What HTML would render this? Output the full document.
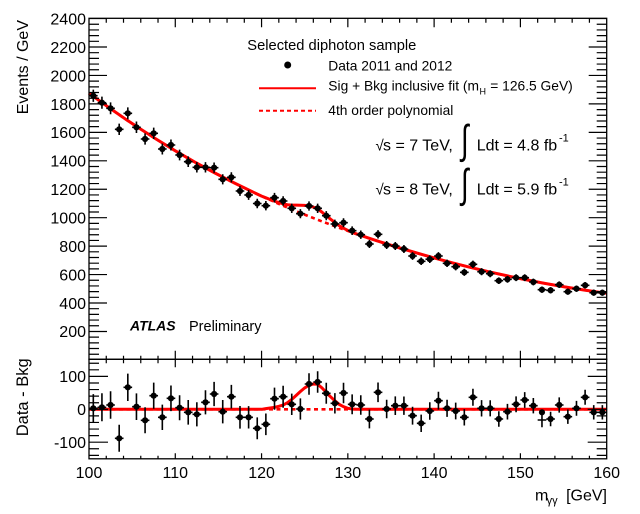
<!DOCTYPE html>
<html><head><meta charset="utf-8"><style>
html,body{margin:0;padding:0;background:#fff;}
svg{display:block;}
text{font-family:"Liberation Sans",Arial,sans-serif;fill:#000;}
</style></head><body>
<svg width="640" height="514" viewBox="0 0 640 514" xmlns="http://www.w3.org/2000/svg">
<defs>
<marker id="dot" markerUnits="userSpaceOnUse" markerWidth="8" markerHeight="8" refX="4" refY="4" viewBox="0 0 8 8"><circle cx="4" cy="4" r="3.1" fill="#000"/></marker>
</defs>

<!-- upper fit curves -->
<path d="M89,93.2 C117.76,114.45 146.54,133.65 175.3,150.8 C204.06,167.95 232.84,182.75 261.6,196.1 C290.36,209.45 319.04,220.6 347.8,230.9 C376.56,241.2 405.34,249.95 434.1,257.9 C462.86,265.85 491.64,272.7 520.4,278.6 C549.16,284.5 577.94,289.4 606.7,293.3" fill="none" stroke="#ff0000" stroke-width="2.6" stroke-dasharray="4 3.5"/>
<path d="M89,93.2 C117.76,114.45 146.54,133.65 175.3,150.8 C204.06,167.95 232.84,182.75 261.6,196.1 L265.87,197.81 L270.19,199.47 L274.5,201.11 L278.82,202.58 L283.13,203.87 L287.44,204.72 L291.76,205.1 L296.07,205.18 L300.39,205.23 L304.7,205.4 L309.01,205.98 L313.33,207.1 L317.64,208.9 L321.96,212.12 L326.27,215.74 L330.58,219.21 L334.9,222.5 L339.21,225.65 L343.53,228.21 L347.84,230.47 L352.16,232.29 L356.47,233.94 C382.35,242.94 408.22,250.74 434.1,257.9 C462.86,265.85 491.64,272.7 520.4,278.6 C549.16,284.5 577.94,289.4 606.7,293.3" fill="none" stroke="#ff0000" stroke-width="3" stroke-linejoin="round"/>

<!-- lower fit curves -->
<path d="M89,409.3H606.7" fill="none" stroke="#ff0000" stroke-width="2.6" stroke-dasharray="4 3.5"/>
<path d="M89,409.3H261.56 L265.87,408.64 L270.19,407.98 L274.5,407.33 L278.82,406.34 L283.13,405.02 L287.44,402.72 L291.76,399.43 L296.07,395.48 L300.39,391.53 L304.7,387.91 L309.01,385.28 L313.33,383.97 L317.64,384.3 L321.96,387.91 L326.27,392.52 L330.58,396.8 L334.9,400.75 L339.21,404.37 L343.53,406.67 L347.84,408.31 L352.16,408.97 L356.47,409.3 H606.7" fill="none" stroke="#ff0000" stroke-width="3" stroke-linejoin="round"/>

<!-- upper error bars -->
<path fill="none" stroke="#000" stroke-width="1.6" d="M93.31,89.57v12.26M89,95.7h8.63M101.94,96.65v12.1M97.63,102.7h8.63M110.57,102.32v11.96M106.26,108.3h8.63M119.19,123.57v11.46M114.88,129.3h8.63M127.82,107.38v11.84M123.51,113.3h8.63M136.45,121.55v11.5M132.14,127.3h8.63M145.08,133.4v11.2M140.77,139h8.63M153.71,127.62v11.36M149.4,133.3h8.63M162.33,143.52v10.96M158.02,149h8.63M170.96,139.47v11.06M166.65,145h8.63M179.59,149.6v10.8M175.28,155h8.63M188.22,156.39v10.62M183.91,161.7h8.63M196.85,162.07v10.46M192.54,167.3h8.63M205.47,162.07v10.46M201.16,167.3h8.63M214.1,162.47v10.46M209.79,167.7h8.63M222.73,174.23v10.14M218.42,179.3h8.63M231.36,172.2v10.2M227.05,177.3h8.63M239.99,186.1v9.8M235.68,191h8.63M248.61,190.16v9.68M244.3,195h8.63M257.24,198.78v9.44M252.93,203.5h8.63M265.87,201.02v9.36M261.56,205.7h8.63M274.5,192.9v9.6M270.19,197.7h8.63M283.13,196.25v9.5M278.82,201h8.63M291.75,203.66v9.28M287.44,208.3h8.63M300.38,209.14v9.12M296.07,213.7h8.63M309.01,201.32v9.36M304.7,206h8.63M317.64,203.66v9.28M313.33,208.3h8.63M326.27,211.17v9.06M321.96,215.7h8.63M334.89,219.6v8.8M330.58,224h8.63M343.52,218.28v8.84M339.21,222.7h8.63M352.15,226.41v8.58M347.84,230.7h8.63M360.78,230.48v8.44M356.47,234.7h8.63M369.41,239.94v8.12M365.1,244h8.63M378.03,230.07v8.46M373.72,234.3h8.63M386.66,240.96v8.08M382.35,245h8.63M395.29,241.98v8.04M390.98,246h8.63M403.92,245.03v7.94M399.61,249h8.63M412.55,252.16v7.68M408.24,256h8.63M421.17,257.56v7.48M416.86,261.3h8.63M429.8,255.42v7.56M425.49,259.2h8.63M438.43,252.16v7.68M434.12,256h8.63M447.06,259.59v7.42M442.75,263.3h8.63M455.69,263.06v7.28M451.38,266.7h8.63M464.31,268.77v7.06M460,272.3h8.63M472.94,260.61v7.38M468.63,264.3h8.63M481.57,268.16v7.08M477.26,271.7h8.63M490.2,270.2v7M485.89,273.7h8.63M498.83,277.34v6.72M494.52,280.7h8.63M507.45,275.91v6.78M503.14,279.3h8.63M516.08,274.28v6.84M511.77,277.7h8.63M524.71,274.28v6.84M520.4,277.7h8.63M533.34,278.67v6.66M529.03,282h8.63M541.97,286.54v6.32M537.66,289.7h8.63M550.59,287.15v6.3M546.28,290.3h8.63M559.22,281.43v6.54M554.91,284.7h8.63M567.85,288.59v6.22M563.54,291.7h8.63M576.48,285.52v6.36M572.17,288.7h8.63M585.11,282.04v6.52M580.8,285.3h8.63M593.73,289.61v6.18M589.42,292.7h8.63M602.36,289.61v6.18M598.05,292.7h8.63"/>
<polyline fill="none" stroke="none" marker-start="url(#dot)" marker-mid="url(#dot)" marker-end="url(#dot)" points="93.31,95.7 101.94,102.7 110.57,108.3 119.19,129.3 127.82,113.3 136.45,127.3 145.08,139 153.71,133.3 162.33,149 170.96,145 179.59,155 188.22,161.7 196.85,167.3 205.47,167.3 214.1,167.7 222.73,179.3 231.36,177.3 239.99,191 248.61,195 257.24,203.5 265.87,205.7 274.5,197.7 283.13,201 291.75,208.3 300.38,213.7 309.01,206 317.64,208.3 326.27,215.7 334.89,224 343.52,222.7 352.15,230.7 360.78,234.7 369.41,244 378.03,234.3 386.66,245 395.29,246 403.92,249 412.55,256 421.17,261.3 429.8,259.2 438.43,256 447.06,263.3 455.69,266.7 464.31,272.3 472.94,264.3 481.57,271.7 490.2,273.7 498.83,280.7 507.45,279.3 516.08,277.7 524.71,277.7 533.34,282 541.97,289.7 550.59,290.3 559.22,284.7 567.85,291.7 576.48,288.7 585.11,285.3 593.73,292.7 602.36,292.7"/>

<!-- lower error bars -->
<path fill="none" stroke="#000" stroke-width="1.6" d="M93.31,394.1v28.4M89,408.3h8.63M101.94,393.3v28M97.63,407.3h8.63M110.57,391.2v27.6M106.26,405h8.63M119.19,424.8v27M114.88,438.3h8.63M127.82,373.6v27.4M123.51,387.3h8.63M136.45,393.4v26.6M132.14,406.7h8.63M145.08,407.3v26M140.77,420.3h8.63M153.71,382.6v26.2M149.4,395.7h8.63M162.33,404.6v25.4M158.02,417.3h8.63M170.96,385.5v25.6M166.65,398.3h8.63M179.59,395.2v25M175.28,407.7h8.63M188.22,400v24.6M183.91,412.3h8.63M196.85,402.2v24.2M192.54,414.3h8.63M205.47,390.2v24.2M201.16,402.3h8.63M214.1,381.9v24.2M209.79,394h8.63M222.73,400v23.4M218.42,411.7h8.63M231.36,384.9v23.6M227.05,396.7h8.63M239.99,406v22.6M235.68,417.3h8.63M248.61,406.1v22.4M244.3,417.3h8.63M257.24,417.4v21.8M252.93,428.3h8.63M265.87,413.5v21.6M261.56,424.3h8.63M274.5,387.6v22.2M270.19,398.7h8.63M283.13,385.7v22M278.82,396.7h8.63M291.75,393.6v21.4M287.44,404.3h8.63M300.38,398.4v21.2M296.07,409h8.63M309.01,373.2v21.6M304.7,384h8.63M317.64,371.3v21.4M313.33,382h8.63M326.27,382.8v21M321.96,393.3h8.63M334.89,393.1v20.4M330.58,403.3h8.63M343.52,382.8v20.4M339.21,393h8.63M352.15,394.4v19.8M347.84,404.3h8.63M360.78,395.2v19.6M356.47,405h8.63M369.41,409.6v18.8M365.1,419h8.63M378.03,382.5v19.6M373.72,392.3h8.63M386.66,399.7v18.6M382.35,409h8.63M395.29,396.4v18.6M390.98,405.7h8.63M403.92,396.5v18.4M399.61,405.7h8.63M412.55,406.8v17.8M408.24,415.7h8.63M421.17,414.6v17.4M416.86,423.3h8.63M429.8,402.3v17.4M425.49,411h8.63M438.43,391.8v17.8M434.12,400.7h8.63M447.06,399.7v17.2M442.75,408.3h8.63M455.69,402.6v16.8M451.38,411h8.63M464.31,409.1v16.4M460,417.3h8.63M472.94,388.8v17M468.63,397.3h8.63M481.57,400.1v16.4M477.26,408.3h8.63M490.2,400.2v16.2M485.89,408.3h8.63M498.83,411.2v15.6M494.52,419h8.63M507.45,403.9v15.6M503.14,411.7h8.63M516.08,396.4v15.8M511.77,404.3h8.63M524.71,392.1v15.8M520.4,400h8.63M533.34,398v15.4M529.03,405.7h8.63M541.97,412.7v14.6M537.66,420h8.63M550.59,411.7v14.6M546.28,419h8.63M559.22,397.4v15.2M554.91,405h8.63M567.85,409.5v14.4M563.54,416.7h8.63M576.48,400.9v14.8M572.17,408.3h8.63M585.11,389.8v15M580.8,397.3h8.63M593.73,405.1v14.4M589.42,412.3h8.63M602.36,405.1v14.4M598.05,412.3h8.63"/>
<polyline fill="none" stroke="none" marker-start="url(#dot)" marker-mid="url(#dot)" marker-end="url(#dot)" points="93.31,408.3 101.94,407.3 110.57,405 119.19,438.3 127.82,387.3 136.45,406.7 145.08,420.3 153.71,395.7 162.33,417.3 170.96,398.3 179.59,407.7 188.22,412.3 196.85,414.3 205.47,402.3 214.1,394 222.73,411.7 231.36,396.7 239.99,417.3 248.61,417.3 257.24,428.3 265.87,424.3 274.5,398.7 283.13,396.7 291.75,404.3 300.38,409 309.01,384 317.64,382 326.27,393.3 334.89,403.3 343.52,393 352.15,404.3 360.78,405 369.41,419 378.03,392.3 386.66,409 395.29,405.7 403.92,405.7 412.55,415.7 421.17,423.3 429.8,411 438.43,400.7 447.06,408.3 455.69,411 464.31,417.3 472.94,397.3 481.57,408.3 490.2,408.3 498.83,419 507.45,411.7 516.08,404.3 524.71,400 533.34,405.7 541.97,412.3 550.59,419 559.22,405 567.85,416.7 576.48,408.3 585.11,397.3 593.73,412.3 602.36,412.3"/>

<!-- frames -->
<rect x="89" y="18.3" width="517.7" height="341" fill="none" stroke="#000" stroke-width="1.3"/>
<rect x="89" y="359.3" width="517.7" height="99.5" fill="none" stroke="#000" stroke-width="1.3"/>

<!-- y ticks -->
<g fill="none" stroke="#000" stroke-width="1.2">
<path id="ylt" d="M89,18.57h18m-18,5.689h10m-10,5.689h10m-10,5.689h10m-10,5.689h10m-10,5.689h18m-18,5.689h10m-10,5.689h10m-10,5.689h10m-10,5.689h10m-10,5.689h18m-18,5.689h10m-10,5.689h10m-10,5.689h10m-10,5.689h10m-10,5.689h18m-18,5.689h10m-10,5.689h10m-10,5.689h10m-10,5.689h10m-10,5.689h18m-18,5.689h10m-10,5.689h10m-10,5.689h10m-10,5.689h10m-10,5.689h18m-18,5.689h10m-10,5.689h10m-10,5.689h10m-10,5.689h10m-10,5.689h18m-18,5.689h10m-10,5.689h10m-10,5.689h10m-10,5.689h10m-10,5.689h18m-18,5.689h10m-10,5.689h10m-10,5.689h10m-10,5.689h10m-10,5.689h18m-18,5.689h10m-10,5.689h10m-10,5.689h10m-10,5.689h10m-10,5.689h18m-18,5.689h10m-10,5.689h10m-10,5.689h10m-10,5.689h10m-10,5.689h18m-18,5.689h10m-10,5.689h10m-10,5.689h10m-10,5.689h10m-10,5.689h18m-18,5.689h10m-10,5.689h10m-10,5.689h10m-10,5.689h10M89,363.24h10m-10,6.58h10m-10,6.58h19m-19,6.58h10m-10,6.58h10m-10,6.58h10m-10,6.58h10m-10,6.58h19m-19,6.58h10m-10,6.58h10m-10,6.58h10m-10,6.58h10m-10,6.58h19m-19,6.58h10m-10,6.58h10"/>
<use href="#ylt" transform="translate(695.7,0) scale(-1,1)"/>
<!-- x ticks: top of upper panel -->
<path d="M175.28,18.3v9M261.56,18.3v9M347.84,18.3v9M434.12,18.3v9M520.4,18.3v9M106.26,18.3v4.5M123.51,18.3v4.5M140.77,18.3v4.5M158.02,18.3v4.5M192.54,18.3v4.5M209.79,18.3v4.5M227.05,18.3v4.5M244.3,18.3v4.5M278.82,18.3v4.5M296.07,18.3v4.5M313.33,18.3v4.5M330.58,18.3v4.5M365.1,18.3v4.5M382.35,18.3v4.5M399.61,18.3v4.5M416.86,18.3v4.5M451.38,18.3v4.5M468.63,18.3v4.5M485.89,18.3v4.5M503.14,18.3v4.5M537.66,18.3v4.5M554.91,18.3v4.5M572.17,18.3v4.5M589.42,18.3v4.5"/>
<!-- separator ticks -->
<path d="M175.28,350.7v16.6M261.56,350.7v16.6M347.84,350.7v16.6M434.12,350.7v16.6M520.4,350.7v16.6M106.26,355.8v7.5M123.51,355.8v7.5M140.77,355.8v7.5M158.02,355.8v7.5M192.54,355.8v7.5M209.79,355.8v7.5M227.05,355.8v7.5M244.3,355.8v7.5M278.82,355.8v7.5M296.07,355.8v7.5M313.33,355.8v7.5M330.58,355.8v7.5M365.1,355.8v7.5M382.35,355.8v7.5M399.61,355.8v7.5M416.86,355.8v7.5M451.38,355.8v7.5M468.63,355.8v7.5M485.89,355.8v7.5M503.14,355.8v7.5M537.66,355.8v7.5M554.91,355.8v7.5M572.17,355.8v7.5M589.42,355.8v7.5"/>
<!-- bottom ticks -->
<path d="M175.28,458.8v-5.5M261.56,458.8v-5.5M347.84,458.8v-5.5M434.12,458.8v-5.5M520.4,458.8v-5.5M106.26,458.8v-3M123.51,458.8v-3M140.77,458.8v-3M158.02,458.8v-3M192.54,458.8v-3M209.79,458.8v-3M227.05,458.8v-3M244.3,458.8v-3M278.82,458.8v-3M296.07,458.8v-3M313.33,458.8v-3M330.58,458.8v-3M365.1,458.8v-3M382.35,458.8v-3M399.61,458.8v-3M416.86,458.8v-3M451.38,458.8v-3M468.63,458.8v-3M485.89,458.8v-3M503.14,458.8v-3M537.66,458.8v-3M554.91,458.8v-3M572.17,458.8v-3M589.42,458.8v-3"/>
</g>

<!-- y tick labels -->
<g font-size="16" text-anchor="end">
<text x="86" y="24.5">2400</text>
<text x="86" y="52.9">2200</text>
<text x="86" y="81.3">2000</text>
<text x="86" y="109.8">1800</text>
<text x="86" y="138.2">1600</text>
<text x="86" y="166.6">1400</text>
<text x="86" y="195.1">1200</text>
<text x="86" y="223.5">1000</text>
<text x="86" y="251.9">800</text>
<text x="86" y="280.4">600</text>
<text x="86" y="308.8">400</text>
<text x="86" y="337.2">200</text>
<text x="86" y="382.2">100</text>
<text x="86" y="415.1">0</text>
<text x="86" y="448">-100</text>
</g>
<!-- x tick labels -->
<g font-size="16" text-anchor="middle">
<text x="89" y="478">100</text>
<text x="175.28" y="478">110</text>
<text x="261.56" y="478">120</text>
<text x="347.84" y="478">130</text>
<text x="434.12" y="478">140</text>
<text x="520.4" y="478">150</text>
<text x="606.7" y="478">160</text>
</g>

<!-- axis titles -->
<text font-size="16" text-anchor="end" transform="translate(27.8,20) rotate(-90)">Events / GeV</text>
<text font-size="16.5" text-anchor="end" transform="translate(27.8,358.3) rotate(-90)">Data - Bkg</text>
<text font-size="16" x="535" y="500.7">m</text>
<text font-size="11" x="546.6" y="504">γγ</text>
<text font-size="16" x="607" y="500.7" text-anchor="end">[GeV]</text>

<!-- legend -->
<text font-size="14.7" x="247.3" y="50">Selected diphoton sample</text>
<circle cx="287.7" cy="65" r="3.5" fill="#000"/>
<text font-size="13.8" x="328.3" y="70.7">Data 2011 and 2012</text>
<path d="M259,88.3H316" stroke="#ff0000" stroke-width="2"/>
<text font-size="13.8" x="328.3" y="90.3">Sig + Bkg inclusive fit (m</text>
<text font-size="9" x="479.5" y="94.5">H</text>
<text font-size="13.8" x="490.3" y="90.3">= 126.5 GeV)</text>
<path d="M259,110.7H316" stroke="#ff0000" stroke-width="2" stroke-dasharray="4 3"/>
<text font-size="13.8" x="328.3" y="115">4th order polynomial</text>

<!-- energy / lumi -->
<text font-size="15" x="375.5" y="150.7">√</text>
<text font-size="16" x="383" y="150.7">s = 7 TeV,</text>
<text font-family="DejaVu Sans" font-size="22" transform="translate(461,153.5) scale(1.25,1.85)">∫</text>
<text font-size="16" x="476.7" y="150.7">Ldt = 4.8 fb</text>
<text font-size="11" x="559" y="141.7">-1</text>

<text font-size="15" x="375.5" y="194.5">√</text>
<text font-size="16" x="383" y="194.5">s = 8 TeV,</text>
<text font-family="DejaVu Sans" font-size="22" transform="translate(461,197.5) scale(1.25,1.85)">∫</text>
<text font-size="16" x="476.7" y="194.5">Ldt = 5.9 fb</text>
<text font-size="11" x="559" y="185.5">-1</text>

<!-- ATLAS -->
<text font-size="14" font-weight="bold" font-style="italic" x="130" y="330.5">ATLAS</text>
<text font-size="14.5" x="189" y="330.8">Preliminary</text>
</svg>
</body></html>
